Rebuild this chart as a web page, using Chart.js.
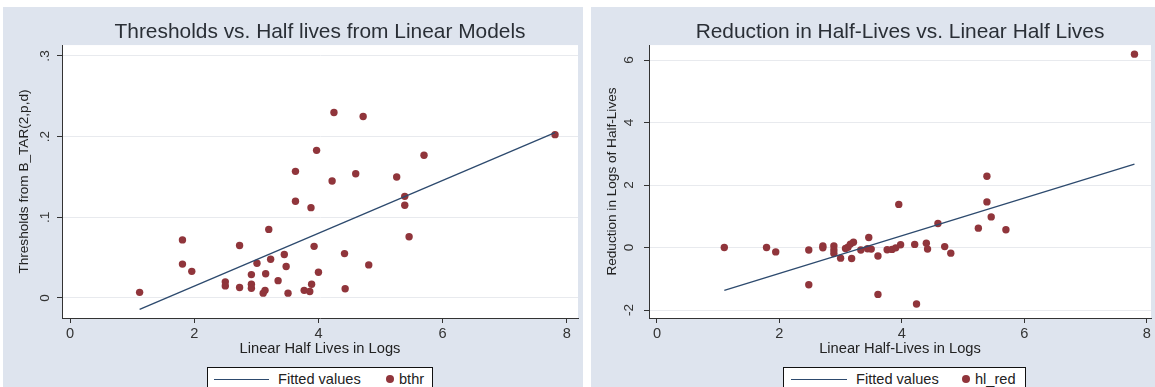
<!DOCTYPE html>
<html>
<head>
<meta charset="utf-8">
<script src="https://cdn.jsdelivr.net/npm/chart.js@4.4.1/dist/chart.umd.min.js"></script>
<style>
  body { margin: 0; width: 1155px; height: 387px; overflow: hidden; background: #fff; position: relative;
         font-family: "Liberation Sans", Arial, sans-serif; }
  .panel { position: absolute; top: 7px; height: 380px; background: #dee4ee; }
  .legend { position: absolute; top: 367px; height: 30px; background: #fff; border: 1px solid #111;
            box-sizing: border-box; font-size: 14.6px; color: #222; }
  .legend span { position: absolute; top: 3px; white-space: nowrap; }
  .legend .ln { position: absolute; top: 11px; height: 0; border-top: 1.3px solid #2d4a6e; }
  .legend .dot { position: absolute; top: 7px; width: 8px; height: 8px; border-radius: 50%; background: #90353b; }
</style>
</head>
<body>
<div class="panel" style="left:3px;width:580px"><canvas id="left" width="580" height="380"></canvas></div>
<div class="panel" style="left:591px;width:564px"><canvas id="right" width="564" height="380"></canvas></div>

<div class="legend" style="left:207px;width:226px">
  <div class="ln" style="left:6px;width:55px"></div>
  <span style="left:70px">Fitted values</span>
  <div class="dot" style="left:178px"></div>
  <span style="left:191px">bthr</span>
</div>
<div class="legend" style="left:783px;width:243px">
  <div class="ln" style="left:7px;width:56px"></div>
  <span style="left:72px">Fitted values</span>
  <div class="dot" style="left:178px"></div>
  <span style="left:191px">hl_red</span>
</div>

<script>
// x axis ticks shared by both panels
const xTicks = [0, 2, 4, 6, 8];

// left panel: thresholds (bthr) vs linear half lives
const bthrX = [1.12, 1.81, 1.81, 1.96, 2.50, 2.50, 2.73, 2.73, 2.92, 2.92, 2.92, 3.01, 3.11, 3.14, 3.15,
               3.20, 3.23, 3.35, 3.45, 3.48, 3.51, 3.63, 3.63, 3.77, 3.86, 3.88, 3.89, 3.93, 3.97, 4.00,
               4.22, 4.25, 4.42, 4.43, 4.60, 4.72, 4.81, 5.26, 5.39, 5.39, 5.46, 5.70, 7.81];
const bthrY = [0.007, 0.072, 0.042, 0.033, 0.020, 0.015, 0.065, 0.013, 0.029, 0.017, 0.012, 0.043, 0.006, 0.0095, 0.030,
               0.085, 0.048, 0.0215, 0.054, 0.039, 0.006, 0.157, 0.120, 0.0095, 0.008, 0.112, 0.017, 0.064, 0.183, 0.032,
               0.145, 0.230, 0.055, 0.0115, 0.154, 0.225, 0.041, 0.150, 0.126, 0.115, 0.076, 0.177, 0.2025];
const fitLeftX = [1.12, 7.81];
const fitLeftY = [-0.014, 0.205];
const leftYTicks = [0, 0.1, 0.2, 0.3];
const leftYLabels = ['0', '.1', '.2', '.3'];

// right panel: reduction in half-lives (hl_red)
const hlX = [1.10, 1.79, 1.94, 2.48, 2.48, 2.71, 2.71, 2.89, 2.89, 2.89, 3.00, 3.08, 3.12, 3.16, 3.21,
             3.18, 3.33, 3.46, 3.44, 3.50, 3.61, 3.61, 3.76, 3.84, 3.90, 3.98, 3.95, 4.21, 4.24, 4.40,
             4.42, 4.59, 4.70, 4.80, 5.25, 5.39, 5.39, 5.46, 5.70, 7.80];
const hlY = [0.00, 0.00, -0.14, -0.08, -1.19, 0.05, -0.01, 0.05, -0.08, -0.19, -0.34, -0.03, 0.01, 0.11, 0.17,
             -0.35, -0.08, 0.32, -0.04, -0.05, -0.27, -1.50, -0.07, -0.06, -0.01, 0.09, 1.38, 0.10, -1.81, 0.14,
             -0.05, 0.77, 0.03, -0.18, 0.62, 2.28, 1.46, 0.98, 0.57, 6.19];
const fitRightX = [1.10, 7.80];
const fitRightY = [-1.37, 2.67];
const rightYTicks = [-2, 0, 2, 4, 6];
const rightYLabels = ['-2', '0', '2', '4', '6'];

const FONT = '"Liberation Sans", Arial, sans-serif';
const pointColor = '#90353b';
const lineColor = '#2d4a6e';

const plotBg = {
  id: 'plotBg',
  beforeDraw(chart) {
    const a = chart.chartArea, ctx = chart.ctx;
    ctx.save();
    ctx.fillStyle = '#fff';
    ctx.fillRect(a.left, a.top, a.right - a.left, a.bottom - a.top);
    ctx.restore();
  }
};

function makeChart(id, cfg) {
  return new Chart(document.getElementById(id), {
    type: 'scatter',
    data: {
      datasets: [
        {
          label: 'Fitted values',
          data: cfg.fitX.map((x, i) => ({ x: x, y: cfg.fitY[i] })),
          showLine: true,
          borderColor: lineColor,
          borderWidth: 1.3,
          pointRadius: 0
        },
        {
          label: cfg.name,
          data: cfg.xs.map((x, i) => ({ x: x, y: cfg.ys[i] })),
          backgroundColor: pointColor,
          borderColor: pointColor,
          pointRadius: 3.7,
          pointBorderWidth: 0
        }
      ]
    },
    options: {
      responsive: false,
      animation: false,
      devicePixelRatio: 1,
      layout: { padding: { left: 0, right: cfg.padRight, top: 0, bottom: 0 } },
      plugins: {
        legend: { display: false },
        tooltip: { enabled: false },
        title: {
          display: true,
          text: cfg.title,
          fullSize: false,
          color: '#2a2f36',
          font: { family: FONT, size: 20.9, weight: 'normal' },
          padding: { top: 13, bottom: 0 }
        }
      },
      scales: {
        x: {
          type: 'linear',
          min: cfg.xMin, max: cfg.xMax,
          afterBuildTicks: s => { s.ticks = xTicks.map(v => ({ value: v })); },
          afterFit: s => { s.height = 69; },
          grid: { drawOnChartArea: false, tickLength: 5, tickColor: '#333' },
          border: { color: '#333', width: 1 },
          ticks: { color: '#333', font: { family: FONT, size: 14.6 }, padding: 2, maxRotation: 0, autoSkip: false },
          title: { display: true, text: cfg.xTitle, color: '#222', font: { family: FONT, size: 14.7 },
                   padding: { top: 0, bottom: 29 } }
        },
        y: {
          type: 'linear',
          min: cfg.yMin, max: cfg.yMax,
          afterBuildTicks: s => { s.ticks = cfg.yTicks.map(v => ({ value: v })); },
          afterFit: s => { s.width = cfg.yWidth; },
          grid: { color: '#e8eaee', tickLength: 5, tickColor: '#333' },
          border: { color: '#333', width: 1 },
          ticks: {
            color: '#333', font: { family: FONT, size: 13.6 }, minRotation: 90, maxRotation: 90,
            crossAlign: 'center', padding: cfg.tickPad, autoSkip: false,
            callback: v => cfg.yLabels[cfg.yTicks.indexOf(v)]
          },
          title: { display: true, text: cfg.yTitle, color: '#222', font: { family: FONT, size: 13.6 },
                   padding: { top: 13, bottom: 0 } }
        }
      }
    },
    plugins: [plotBg]
  });
}

makeChart('left', {
  name: 'bthr', xs: bthrX, ys: bthrY, fitX: fitLeftX, fitY: fitLeftY,
  title: 'Thresholds vs. Half lives from Linear Models',
  xTitle: 'Linear Half Lives in Logs',
  yTitle: 'Thresholds from B_TAR(2,p,d)',
  yTicks: leftYTicks, yLabels: leftYLabels,
  xMin: -0.13, xMax: 8.18, yMin: -0.0248, yMax: 0.3135,
  yWidth: 59, padRight: 5, tickPad: 6
});

makeChart('right', {
  name: 'hl_red', xs: hlX, ys: hlY, fitX: fitRightX, fitY: fitRightY,
  title: 'Reduction in Half-Lives vs. Linear Half Lives',
  xTitle: 'Linear Half-Lives in Logs',
  yTitle: 'Reduction in Logs of Half-Lives',
  yTicks: rightYTicks, yLabels: rightYLabels,
  xMin: -0.13, xMax: 8.07, yMin: -2.256, yMax: 6.48,
  yWidth: 58, padRight: 0, tickPad: 9
});
</script>
</body>
</html>
